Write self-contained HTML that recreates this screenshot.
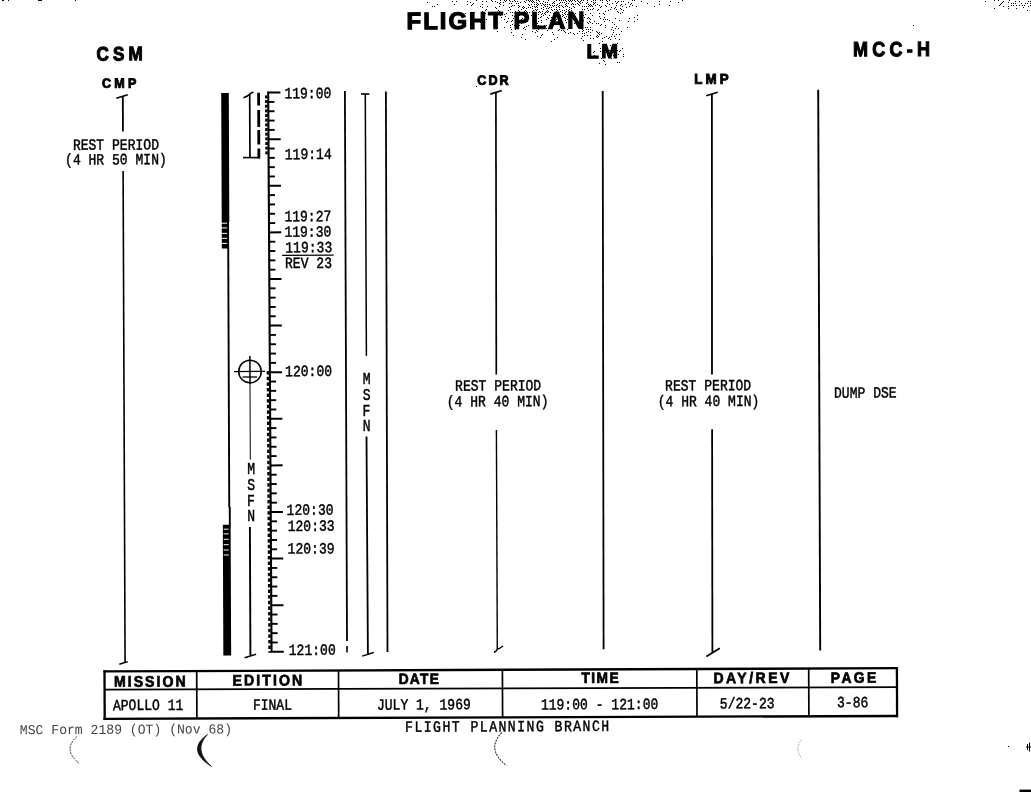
<!DOCTYPE html>
<html><head><meta charset="utf-8"><title>Flight Plan</title>
<style>html,body{margin:0;padding:0;background:#fff}svg{display:block}text{white-space:pre}</style></head>
<body>
<svg width="1031" height="792" viewBox="0 0 1031 792">
<rect width="1031" height="792" fill="#fff"/>
<path d="M476 0.5h1M491 0.5h1M500 0.5h1M504 0.5h1M506 0.5h1M509 0.5h1M514 0.5h1M526 0.5h1M528 0.5h1M530 0.5h1M532 0.5h1M536 0.5h1M538 0.5h1M548 0.5h1M556 0.5h1M559 0.5h1M561 0.5h1M563 0.5h1M565 0.5h1M568 0.5h1M570 0.5h1M572 0.5h1M574 0.5h1M577 0.5h1M581 0.5h1M583 0.5h1M587 0.5h1M593 0.5h1M595 0.5h1M600 0.5h1M602 0.5h1M606 0.5h1M609 0.5h1M632 0.5h1M634 0.5h1M682 0.5h1M994 0.5h1M998 0.5h1M1009 0.5h1M452 1.5h1M456 1.5h1M467 1.5h1M482 1.5h1M486 1.5h1M492 1.5h1M495 1.5h1M505 1.5h1M510 1.5h1M512 1.5h1M515 1.5h1M517 1.5h1M524 1.5h1M529 1.5h1M531 1.5h1M533 1.5h1M539 1.5h1M543 1.5h1M554 1.5h1M566 1.5h1M569 1.5h1M571 1.5h1M575 1.5h1M578 1.5h1M580 1.5h1M591 1.5h1M607 1.5h1M615 1.5h1M618 1.5h1M621 1.5h1M623 1.5h1M641 1.5h1M659 1.5h1M670 1.5h1M985 1.5h1M1003 1.5h1M1015 1.5h1M1019 1.5h1M1028 1.5h1M1030 1.5h1M427 2.5h1M470 2.5h1M497 2.5h1M500 2.5h1M503 2.5h1M520 2.5h1M525 2.5h1M532 2.5h1M534 2.5h1M536 2.5h1M545 2.5h1M547 2.5h1M553 2.5h1M560 2.5h1M562 2.5h1M564 2.5h1M579 2.5h1M582 2.5h1M587 2.5h1M593 2.5h1M595 2.5h1M602 2.5h1M617 2.5h1M628 2.5h1M678 2.5h1M1002 2.5h1M1008 2.5h1M473 3.5h1M499 3.5h1M509 3.5h1M511 3.5h1M516 3.5h1M518 3.5h1M537 3.5h1M540 3.5h1M542 3.5h1M552 3.5h1M554 3.5h1M559 3.5h1M566 3.5h1M568 3.5h1M572 3.5h1M577 3.5h1M580 3.5h1M586 3.5h1M594 3.5h1M607 3.5h1M612 3.5h1M616 3.5h1M631 3.5h1M647 3.5h1M1001 3.5h1M1011 3.5h1M1013 3.5h1M1015 3.5h1M1021 3.5h1M1025 3.5h1M1027 3.5h1M1030 3.5h1M437 4.5h1M454 4.5h1M467 4.5h1M472 4.5h1M482 4.5h1M500 4.5h1M528 4.5h1M531 4.5h1M534 4.5h1M536 4.5h1M538 4.5h1M543 4.5h1M545 4.5h1M547 4.5h1M549 4.5h1M557 4.5h1M565 4.5h1M571 4.5h1M573 4.5h1M575 4.5h1M578 4.5h1M588 4.5h1M590 4.5h1M593 4.5h1M597 4.5h1M609 4.5h1M621 4.5h1M625 4.5h1M630 4.5h1M659 4.5h1M1000 4.5h1M471 5.5h1M503 5.5h1M512 5.5h1M514 5.5h1M518 5.5h1M529 5.5h1M537 5.5h1M541 5.5h1M544 5.5h1M550 5.5h1M552 5.5h1M554 5.5h1M556 5.5h1M559 5.5h1M561 5.5h1M566 5.5h1M579 5.5h1M589 5.5h1M591 5.5h1M595 5.5h1M599 5.5h1M605 5.5h1M616 5.5h1M620 5.5h1M632 5.5h1M669 5.5h1M999 5.5h1M1011 5.5h1M1013 5.5h1M1016 5.5h1M1019 5.5h1M1022 5.5h1M1024 5.5h1M1030 5.5h1M432 6.5h1M434 6.5h1M480 6.5h1M487 6.5h1M499 6.5h1M511 6.5h1M519 6.5h1M523 6.5h1M532 6.5h1M534 6.5h1M536 6.5h1M545 6.5h1M547 6.5h1M553 6.5h1M558 6.5h1M562 6.5h1M565 6.5h1M567 6.5h1M573 6.5h1M582 6.5h1M584 6.5h1M586 6.5h1M588 6.5h1M590 6.5h1M592 6.5h1M601 6.5h1M606 6.5h1M622 6.5h1M629 6.5h1M636 6.5h1M654 6.5h1M1003 6.5h1M1008 6.5h1M1028 6.5h1M482 7.5h1M495 7.5h1M509 7.5h1M518 7.5h1M522 7.5h1M524 7.5h1M528 7.5h1M530 7.5h1M535 7.5h1M537 7.5h1M543 7.5h1M549 7.5h1M551 7.5h1M556 7.5h1M559 7.5h1M563 7.5h1M569 7.5h1M574 7.5h1M600 7.5h1M611 7.5h1M615 7.5h1M626 7.5h1M1023 7.5h1M496 8.5h1M523 8.5h1M526 8.5h1M532 8.5h1M541 8.5h1M546 8.5h1M548 8.5h1M571 8.5h1M587 8.5h1M593 8.5h1M614 8.5h1M620 8.5h1M994 8.5h1M1008 8.5h1M1016 8.5h1M486 9.5h1M510 9.5h1M521 9.5h1M535 9.5h1M537 9.5h1M543 9.5h1M551 9.5h1M554 9.5h1M556 9.5h1M559 9.5h1M566 9.5h1M569 9.5h1M582 9.5h1M584 9.5h1M590 9.5h1M592 9.5h1M598 9.5h1M610 9.5h1M616 9.5h1M621 9.5h1M485 10.5h1M498 10.5h1M508 10.5h1M518 10.5h1M525 10.5h1M533 10.5h1M536 10.5h1M547 10.5h1M552 10.5h1M557 10.5h1M562 10.5h1M564 10.5h1M568 10.5h1M571 10.5h1M588 10.5h1M597 10.5h1M608 10.5h1M623 10.5h1M1027 10.5h1M482 11.5h1M499 11.5h1M515 11.5h1M519 11.5h1M524 11.5h1M526 11.5h1M532 11.5h1M539 11.5h1M542 11.5h1M546 11.5h1M548 11.5h1M556 11.5h1M560 11.5h1M566 11.5h1M569 11.5h1M581 11.5h1M605 11.5h1M617 11.5h1M474 12.5h1M510 12.5h1M512 12.5h1M523 12.5h1M525 12.5h1M527 12.5h1M529 12.5h1M534 12.5h1M538 12.5h1M540 12.5h1M545 12.5h1M547 12.5h1M550 12.5h1M562 12.5h1M565 12.5h1M571 12.5h1M618 12.5h1M622 12.5h1M465 13.5h1M485 13.5h1M498 13.5h1M506 13.5h1M542 13.5h1M544 13.5h1M553 13.5h1M555 13.5h1M564 13.5h1M569 13.5h1M572 13.5h1M575 13.5h1M581 13.5h1M590 13.5h1M599 13.5h1M603 13.5h1M620 13.5h1M484 14.5h1M495 14.5h1M504 14.5h1M517 14.5h1M534 14.5h1M538 14.5h1M541 14.5h1M545 14.5h1M556 14.5h1M559 14.5h1M562 14.5h1M565 14.5h1M567 14.5h1M579 14.5h1M582 14.5h1M585 14.5h1M604 14.5h1M500 15.5h1M512 15.5h1M519 15.5h1M526 15.5h1M531 15.5h1M543 15.5h1M549 15.5h1M554 15.5h1M558 15.5h1M560 15.5h1M563 15.5h1M583 15.5h1M592 15.5h1M637 15.5h1M484 16.5h1M505 16.5h1M514 16.5h1M524 16.5h1M541 16.5h1M553 16.5h1M556 16.5h1M562 16.5h1M566 16.5h1M599 16.5h1M501 17.5h1M527 17.5h1M533 17.5h1M540 17.5h1M547 17.5h1M551 17.5h1M555 17.5h1M558 17.5h1M564 17.5h1M568 17.5h1M581 17.5h1M584 17.5h1M588 17.5h1M604 17.5h1M634 17.5h1M495 18.5h1M508 18.5h1M513 18.5h1M518 18.5h1M522 18.5h1M535 18.5h1M538 18.5h1M548 18.5h1M552 18.5h1M565 18.5h1M570 18.5h1M580 18.5h1M582 18.5h1M587 18.5h1M589 18.5h1M600 18.5h1M615 18.5h1M629 18.5h1M486 19.5h1M504 19.5h1M521 19.5h1M534 19.5h1M546 19.5h1M556 19.5h1M567 19.5h1M573 19.5h1M590 19.5h1M603 19.5h1M605 19.5h1M607 19.5h1M637 19.5h1M484 20.5h1M512 20.5h1M517 20.5h1M520 20.5h1M524 20.5h1M526 20.5h1M532 20.5h1M535 20.5h1M541 20.5h1M550 20.5h1M555 20.5h1M559 20.5h1M565 20.5h1M574 20.5h1M579 20.5h1M583 20.5h1M609 20.5h1M619 20.5h1M477 21.5h1M507 21.5h1M511 21.5h1M527 21.5h1M538 21.5h1M551 21.5h1M560 21.5h1M589 21.5h1M594 21.5h1M604 21.5h1M628 21.5h1M634 21.5h1M473 22.5h1M480 22.5h1M506 22.5h1M516 22.5h1M524 22.5h1M532 22.5h1M541 22.5h1M566 22.5h1M569 22.5h1M571 22.5h1M579 22.5h1M587 22.5h1M590 22.5h1M612 22.5h1M521 23.5h1M537 23.5h1M557 23.5h1M574 23.5h1M588 23.5h1M592 23.5h1M596 23.5h1M598 23.5h1M512 24.5h1M532 24.5h1M534 24.5h1M555 24.5h1M560 24.5h1M562 24.5h1M581 24.5h1M601 24.5h1M614 24.5h1M510 25.5h1M514 25.5h1M519 25.5h1M528 25.5h1M538 25.5h1M544 25.5h1M546 25.5h1M549 25.5h1M553 25.5h1M577 25.5h1M582 25.5h1M600 25.5h1M605 25.5h1M526 26.5h1M537 26.5h1M540 26.5h1M545 26.5h1M578 26.5h1M616 26.5h1M484 27.5h1M497 27.5h1M504 27.5h1M510 27.5h1M524 27.5h1M560 27.5h1M562 27.5h1M570 27.5h1M585 27.5h1M587 27.5h1M590 27.5h1M605 27.5h1M612 27.5h1M627 27.5h1M517 28.5h1M523 28.5h1M534 28.5h1M546 28.5h1M548 28.5h1M615 28.5h1M618 28.5h1M511 29.5h1M515 29.5h1M525 29.5h1M538 29.5h1M559 29.5h1M567 29.5h1M582 29.5h1M586 29.5h1M588 29.5h1M590 29.5h1M611 29.5h1M536 30.5h1M547 30.5h1M558 30.5h1M561 30.5h1M563 30.5h1M583 30.5h1M592 30.5h1M613 30.5h1M497 31.5h1M532 31.5h1M537 31.5h1M564 31.5h1M579 31.5h1M582 31.5h1M588 31.5h1M596 31.5h1M621 31.5h1M511 32.5h1M535 32.5h1M552 32.5h1M565 32.5h1M570 32.5h1M586 32.5h1M590 32.5h1M597 32.5h1M599 32.5h1M613 32.5h1M568 33.5h1M573 33.5h1M577 33.5h1M582 33.5h1M584 33.5h1M598 33.5h1M601 33.5h1M522 34.5h1M542 34.5h1M553 34.5h1M574 34.5h1M599 34.5h1M612 34.5h1M616 34.5h1M619 34.5h1M513 35.5h1M541 35.5h1M584 35.5h1M587 35.5h1M590 35.5h1M597 35.5h1M537 36.5h1M582 36.5h1M596 36.5h1M598 36.5h1M606 36.5h1M611 36.5h1M614 36.5h1M521 37.5h1M540 37.5h1M557 37.5h1M597 37.5h1M604 37.5h1M609 37.5h1M581 38.5h1M590 38.5h1M593 38.5h1M602 38.5h1M608 38.5h1M615 38.5h1M525 39.5h1M554 39.5h1M610 39.5h1M619 39.5h1M583 40.5h1M551 41.5h1M602 41.5h1M599 43.5h1M617 43.5h1M605 44.5h1M610 45.5h1M602 46.5h1M603 47.5h1M600 48.5h1M612 48.5h1M622 48.5h1M609 50.5h1M617 50.5h1M620 50.5h1M594 51.5h1M600 51.5h1M619 51.5h1M593 52.5h1M603 52.5h1M613 52.5h1M610 53.5h1M616 53.5h1M604 54.5h1M614 54.5h1M618 54.5h1M623 54.5h1M589 55.5h1M594 55.5h1M613 55.5h1M615 55.5h1M623 56.5h1M601 58.5h1M611 58.5h1M603 60.5h1M604 61.5h1M617 62.5h1M619 62.5h1M599 63.5h1M605 64.5h1" stroke="#000" stroke-width="1" fill="none" shape-rendering="crispEdges"/>
<text transform="translate(406.60 29.20) rotate(-0.23) scale(1.0000 1)" font-family="Liberation Sans, monospace" font-weight="bold" font-size="23.98" letter-spacing="1.948" fill="#000" stroke="#000" stroke-width="1.2">FLIGHT PLAN</text>
<text transform="translate(96.45 60.45) rotate(-0.23) scale(0.8800 1)" font-family="Liberation Sans, monospace" font-weight="bold" font-size="19.48" letter-spacing="4.637" fill="#000" stroke="#000" stroke-width="1.1">CSM</text>
<text transform="translate(586.40 58.15) rotate(-0.23) scale(1.0200 1)" font-family="Liberation Sans, monospace" font-weight="bold" font-size="19.77" letter-spacing="2.436" fill="#000" stroke="#000" stroke-width="1.1">LM</text>
<text transform="translate(853.04 56.35) rotate(-0.23) scale(0.8800 1)" font-family="Liberation Sans, monospace" font-weight="bold" font-size="20.49" letter-spacing="4.807" fill="#000" stroke="#000" stroke-width="1.1">MCC-H</text>
<text transform="translate(101.93 87.75) rotate(-0.23) scale(0.9400 1)" font-family="Liberation Sans, monospace" font-weight="bold" font-size="13.37" letter-spacing="3.411" fill="#000" stroke="#000" stroke-width="0.9">CMP</text>
<text transform="translate(477.33 84.75) rotate(-0.23) scale(0.9400 1)" font-family="Liberation Sans, monospace" font-weight="bold" font-size="13.37" letter-spacing="2.202" fill="#000" stroke="#000" stroke-width="0.9">CDR</text>
<text transform="translate(694.35 83.85) rotate(-0.23) scale(0.9400 1)" font-family="Liberation Sans, monospace" font-weight="bold" font-size="14.24" letter-spacing="3.292" fill="#000" stroke="#000" stroke-width="0.9">LMP</text>
<line x1="116.30" y1="98.30" x2="127.80" y2="94.70" stroke="#000" stroke-width="1.5"/>
<line x1="122.81" y1="96.00" x2="122.95" y2="131.40" stroke="#000" stroke-width="1.8"/>
<line x1="123.11" y1="171.10" x2="125.08" y2="662.50" stroke="#000" stroke-width="1.6"/>
<line x1="119.30" y1="664.20" x2="127.80" y2="661.60" stroke="#000" stroke-width="1.5"/>
<text transform="translate(72.89 149.88) rotate(-0.23) scale(0.8365 1)" font-family="Liberation Mono, monospace" font-weight="normal" font-size="15.60" fill="#000" stroke="#000" stroke-width="0.45">REST PERIOD</text>
<text transform="translate(65.05 164.58) rotate(-0.23) scale(0.8365 1)" font-family="Liberation Mono, monospace" font-weight="normal" font-size="15.60" fill="#000" stroke="#000" stroke-width="0.45">(4 HR 50 MIN)</text>
<polygon points="221.20,93.1 228.80,93.1 229.32,222 221.72,222" fill="#000"/>
<polygon points="221.72,222 229.02,222 229.12,248.5 221.82,248.5" fill="#000"/>
<line x1="220.92" y1="223.20" x2="227.12" y2="223.20" stroke="#fff" stroke-width="1.0"/>
<line x1="220.94" y1="227.90" x2="227.14" y2="227.90" stroke="#fff" stroke-width="1.0"/>
<line x1="220.96" y1="233.40" x2="227.16" y2="233.40" stroke="#fff" stroke-width="1.0"/>
<line x1="220.98" y1="238.30" x2="227.18" y2="238.30" stroke="#fff" stroke-width="1.0"/>
<line x1="221.00" y1="243.40" x2="227.20" y2="243.40" stroke="#fff" stroke-width="1.0"/>
<line x1="228.22" y1="248.00" x2="229.26" y2="507.50" stroke="#000" stroke-width="1.9"/>
<line x1="229.76" y1="507.00" x2="229.83" y2="526.00" stroke="#000" stroke-width="1.9"/>
<polygon points="222.83,524.8 230.63,524.8 230.75,556 222.95,556" fill="#000"/>
<line x1="223.64" y1="529.20" x2="228.64" y2="529.20" stroke="#fff" stroke-width="1.0"/>
<line x1="223.66" y1="533.90" x2="228.66" y2="533.90" stroke="#fff" stroke-width="1.0"/>
<line x1="223.69" y1="539.30" x2="228.69" y2="539.30" stroke="#fff" stroke-width="1.0"/>
<line x1="223.71" y1="544.70" x2="228.71" y2="544.70" stroke="#fff" stroke-width="1.0"/>
<line x1="223.73" y1="550.00" x2="228.73" y2="550.00" stroke="#fff" stroke-width="1.0"/>
<line x1="223.75" y1="555.00" x2="228.75" y2="555.00" stroke="#fff" stroke-width="1.0"/>
<polygon points="222.95,556 230.75,556 231.15,655.6 223.35,655.6" fill="#000"/>
<path d="M243.5 97.8 Q248 96.5 250 93.8 Q251.5 92.5 253.5 92.2" fill="none" stroke="#000" stroke-width="1.5"/>
<line x1="249.70" y1="94.00" x2="249.96" y2="157.60" stroke="#000" stroke-width="1.7"/>
<line x1="243.00" y1="157.60" x2="260.00" y2="157.60" stroke="#000" stroke-width="1.6"/>
<line x1="258.60" y1="92.80" x2="258.65" y2="105.50" stroke="#000" stroke-width="2.8"/>
<line x1="258.67" y1="109.90" x2="258.74" y2="126.90" stroke="#000" stroke-width="2.8"/>
<line x1="258.75" y1="130.00" x2="258.81" y2="144.60" stroke="#000" stroke-width="2.8"/>
<line x1="258.82" y1="148.40" x2="258.86" y2="158.40" stroke="#000" stroke-width="2.8"/>
<line x1="268.19" y1="91.60" x2="271.56" y2="652.80" stroke="#000" stroke-width="2.1"/>
<line x1="268.20" y1="92.60" x2="280.40" y2="92.55" stroke="#000" stroke-width="2.0"/>
<line x1="268.25" y1="101.92" x2="274.45" y2="101.92" stroke="#000" stroke-width="1.9"/>
<line x1="268.31" y1="111.24" x2="274.51" y2="111.24" stroke="#000" stroke-width="1.9"/>
<line x1="268.37" y1="120.56" x2="274.57" y2="120.56" stroke="#000" stroke-width="1.9"/>
<line x1="268.42" y1="129.88" x2="274.62" y2="129.88" stroke="#000" stroke-width="1.9"/>
<line x1="268.48" y1="139.20" x2="280.68" y2="139.15" stroke="#000" stroke-width="2.0"/>
<line x1="268.53" y1="148.52" x2="274.73" y2="148.52" stroke="#000" stroke-width="1.9"/>
<line x1="268.59" y1="157.84" x2="274.79" y2="157.84" stroke="#000" stroke-width="1.9"/>
<line x1="268.64" y1="167.16" x2="274.84" y2="167.16" stroke="#000" stroke-width="1.9"/>
<line x1="268.70" y1="176.48" x2="274.90" y2="176.48" stroke="#000" stroke-width="1.9"/>
<line x1="268.76" y1="185.80" x2="280.96" y2="185.75" stroke="#000" stroke-width="2.0"/>
<line x1="268.81" y1="195.12" x2="275.01" y2="195.12" stroke="#000" stroke-width="1.9"/>
<line x1="268.87" y1="204.44" x2="275.07" y2="204.44" stroke="#000" stroke-width="1.9"/>
<line x1="268.92" y1="213.76" x2="275.12" y2="213.76" stroke="#000" stroke-width="1.9"/>
<line x1="268.98" y1="223.08" x2="275.18" y2="223.08" stroke="#000" stroke-width="1.9"/>
<line x1="269.04" y1="232.40" x2="281.24" y2="232.35" stroke="#000" stroke-width="2.0"/>
<line x1="269.09" y1="241.72" x2="275.29" y2="241.72" stroke="#000" stroke-width="1.9"/>
<line x1="269.15" y1="251.04" x2="275.35" y2="251.04" stroke="#000" stroke-width="1.9"/>
<line x1="269.20" y1="260.36" x2="275.40" y2="260.36" stroke="#000" stroke-width="1.9"/>
<line x1="269.26" y1="269.68" x2="275.46" y2="269.68" stroke="#000" stroke-width="1.9"/>
<line x1="269.32" y1="279.00" x2="281.52" y2="278.95" stroke="#000" stroke-width="2.0"/>
<line x1="269.37" y1="288.32" x2="275.57" y2="288.32" stroke="#000" stroke-width="1.9"/>
<line x1="269.43" y1="297.64" x2="275.63" y2="297.64" stroke="#000" stroke-width="1.9"/>
<line x1="269.48" y1="306.96" x2="275.68" y2="306.96" stroke="#000" stroke-width="1.9"/>
<line x1="269.54" y1="316.28" x2="275.74" y2="316.28" stroke="#000" stroke-width="1.9"/>
<line x1="269.60" y1="325.60" x2="281.80" y2="325.55" stroke="#000" stroke-width="2.0"/>
<line x1="269.65" y1="334.92" x2="275.85" y2="334.92" stroke="#000" stroke-width="1.9"/>
<line x1="269.71" y1="344.24" x2="275.91" y2="344.24" stroke="#000" stroke-width="1.9"/>
<line x1="269.76" y1="353.56" x2="275.96" y2="353.56" stroke="#000" stroke-width="1.9"/>
<line x1="269.82" y1="362.88" x2="276.02" y2="362.88" stroke="#000" stroke-width="1.9"/>
<line x1="269.88" y1="372.20" x2="282.08" y2="372.15" stroke="#000" stroke-width="2.0"/>
<line x1="269.93" y1="381.52" x2="276.13" y2="381.52" stroke="#000" stroke-width="1.9"/>
<line x1="269.99" y1="390.84" x2="276.19" y2="390.84" stroke="#000" stroke-width="1.9"/>
<line x1="270.04" y1="400.16" x2="276.24" y2="400.16" stroke="#000" stroke-width="1.9"/>
<line x1="270.10" y1="409.48" x2="276.30" y2="409.48" stroke="#000" stroke-width="1.9"/>
<line x1="270.15" y1="418.80" x2="282.35" y2="418.75" stroke="#000" stroke-width="2.0"/>
<line x1="270.21" y1="428.12" x2="276.41" y2="428.12" stroke="#000" stroke-width="1.9"/>
<line x1="270.27" y1="437.44" x2="276.47" y2="437.44" stroke="#000" stroke-width="1.9"/>
<line x1="270.32" y1="446.76" x2="276.52" y2="446.76" stroke="#000" stroke-width="1.9"/>
<line x1="270.38" y1="456.08" x2="276.58" y2="456.08" stroke="#000" stroke-width="1.9"/>
<line x1="270.43" y1="465.40" x2="282.63" y2="465.35" stroke="#000" stroke-width="2.0"/>
<line x1="270.49" y1="474.72" x2="276.69" y2="474.72" stroke="#000" stroke-width="1.9"/>
<line x1="270.55" y1="484.04" x2="276.75" y2="484.04" stroke="#000" stroke-width="1.9"/>
<line x1="270.60" y1="493.36" x2="276.80" y2="493.36" stroke="#000" stroke-width="1.9"/>
<line x1="270.66" y1="502.68" x2="276.86" y2="502.68" stroke="#000" stroke-width="1.9"/>
<line x1="270.71" y1="512.00" x2="282.91" y2="511.95" stroke="#000" stroke-width="2.0"/>
<line x1="270.77" y1="521.32" x2="276.97" y2="521.32" stroke="#000" stroke-width="1.9"/>
<line x1="270.83" y1="530.64" x2="277.03" y2="530.64" stroke="#000" stroke-width="1.9"/>
<line x1="270.88" y1="539.96" x2="277.08" y2="539.96" stroke="#000" stroke-width="1.9"/>
<line x1="270.94" y1="549.28" x2="277.14" y2="549.28" stroke="#000" stroke-width="1.9"/>
<line x1="270.99" y1="558.60" x2="283.19" y2="558.55" stroke="#000" stroke-width="2.0"/>
<line x1="271.05" y1="567.92" x2="277.25" y2="567.92" stroke="#000" stroke-width="1.9"/>
<line x1="271.11" y1="577.24" x2="277.31" y2="577.24" stroke="#000" stroke-width="1.9"/>
<line x1="271.16" y1="586.56" x2="277.36" y2="586.56" stroke="#000" stroke-width="1.9"/>
<line x1="271.22" y1="595.88" x2="277.42" y2="595.88" stroke="#000" stroke-width="1.9"/>
<line x1="271.27" y1="605.20" x2="283.47" y2="605.15" stroke="#000" stroke-width="2.0"/>
<line x1="271.33" y1="614.52" x2="277.53" y2="614.52" stroke="#000" stroke-width="1.9"/>
<line x1="271.39" y1="623.84" x2="277.59" y2="623.84" stroke="#000" stroke-width="1.9"/>
<line x1="271.44" y1="633.16" x2="277.64" y2="633.16" stroke="#000" stroke-width="1.9"/>
<line x1="271.50" y1="642.48" x2="277.70" y2="642.48" stroke="#000" stroke-width="1.9"/>
<line x1="271.55" y1="651.80" x2="283.75" y2="651.75" stroke="#000" stroke-width="2.0"/>
<rect x="265.01" y="95.40" width="2.40" height="3.00" fill="#000"/>
<rect x="265.04" y="100.06" width="2.40" height="3.00" fill="#000"/>
<rect x="265.07" y="104.72" width="2.40" height="3.00" fill="#000"/>
<rect x="265.10" y="109.38" width="2.40" height="3.00" fill="#000"/>
<rect x="265.13" y="114.04" width="2.40" height="3.00" fill="#000"/>
<rect x="265.15" y="118.70" width="2.40" height="3.00" fill="#000"/>
<rect x="265.18" y="123.36" width="2.40" height="3.00" fill="#000"/>
<rect x="265.21" y="128.02" width="2.40" height="3.00" fill="#000"/>
<rect x="265.24" y="132.68" width="2.40" height="3.00" fill="#000"/>
<rect x="265.27" y="137.34" width="2.40" height="3.00" fill="#000"/>
<rect x="265.29" y="142.00" width="2.40" height="3.00" fill="#000"/>
<rect x="265.32" y="146.66" width="2.40" height="3.00" fill="#000"/>
<rect x="265.35" y="151.32" width="2.40" height="3.00" fill="#000"/>
<rect x="266.67" y="371.20" width="2.40" height="3.40" fill="#000"/>
<rect x="266.70" y="376.80" width="2.40" height="3.40" fill="#000"/>
<rect x="266.74" y="382.40" width="2.40" height="3.40" fill="#000"/>
<rect x="266.77" y="388.00" width="2.40" height="3.40" fill="#000"/>
<rect x="266.80" y="393.60" width="2.40" height="3.40" fill="#000"/>
<rect x="266.84" y="399.20" width="2.40" height="3.40" fill="#000"/>
<rect x="266.87" y="404.80" width="2.40" height="3.40" fill="#000"/>
<rect x="266.90" y="410.40" width="2.40" height="3.40" fill="#000"/>
<rect x="266.94" y="416.00" width="2.40" height="3.40" fill="#000"/>
<rect x="266.97" y="421.60" width="2.40" height="3.40" fill="#000"/>
<rect x="267.01" y="427.20" width="2.40" height="3.40" fill="#000"/>
<rect x="267.04" y="432.80" width="2.40" height="3.40" fill="#000"/>
<rect x="267.07" y="438.40" width="2.40" height="3.40" fill="#000"/>
<rect x="267.11" y="444.00" width="2.40" height="3.40" fill="#000"/>
<rect x="267.14" y="449.60" width="2.40" height="3.40" fill="#000"/>
<rect x="267.17" y="455.20" width="2.40" height="3.40" fill="#000"/>
<rect x="267.21" y="460.80" width="2.40" height="3.40" fill="#000"/>
<rect x="267.24" y="466.40" width="2.40" height="3.40" fill="#000"/>
<rect x="267.27" y="472.00" width="2.40" height="3.40" fill="#000"/>
<rect x="267.31" y="477.60" width="2.40" height="3.40" fill="#000"/>
<rect x="267.34" y="483.20" width="2.40" height="3.40" fill="#000"/>
<rect x="267.37" y="488.80" width="2.40" height="3.40" fill="#000"/>
<rect x="267.41" y="494.40" width="2.40" height="3.40" fill="#000"/>
<rect x="267.44" y="500.00" width="2.40" height="3.40" fill="#000"/>
<rect x="267.48" y="505.60" width="2.40" height="3.40" fill="#000"/>
<rect x="267.51" y="511.20" width="2.40" height="3.40" fill="#000"/>
<rect x="267.54" y="516.80" width="2.40" height="3.40" fill="#000"/>
<rect x="267.58" y="522.40" width="2.40" height="3.40" fill="#000"/>
<rect x="267.61" y="528.00" width="2.40" height="3.40" fill="#000"/>
<rect x="267.64" y="533.60" width="2.40" height="3.40" fill="#000"/>
<rect x="267.68" y="539.20" width="2.40" height="3.40" fill="#000"/>
<rect x="267.71" y="544.80" width="2.40" height="3.40" fill="#000"/>
<rect x="267.74" y="550.40" width="2.40" height="3.40" fill="#000"/>
<rect x="267.78" y="556.00" width="2.40" height="3.40" fill="#000"/>
<rect x="267.81" y="561.60" width="2.40" height="3.40" fill="#000"/>
<rect x="267.85" y="567.20" width="2.40" height="3.40" fill="#000"/>
<rect x="267.88" y="572.80" width="2.40" height="3.40" fill="#000"/>
<rect x="267.91" y="578.40" width="2.40" height="3.40" fill="#000"/>
<rect x="267.95" y="584.00" width="2.40" height="3.40" fill="#000"/>
<rect x="267.98" y="589.60" width="2.40" height="3.40" fill="#000"/>
<rect x="268.01" y="595.20" width="2.40" height="3.40" fill="#000"/>
<rect x="268.05" y="600.80" width="2.40" height="3.40" fill="#000"/>
<rect x="268.08" y="606.40" width="2.40" height="3.40" fill="#000"/>
<rect x="268.11" y="612.00" width="2.40" height="3.40" fill="#000"/>
<rect x="268.15" y="617.60" width="2.40" height="3.40" fill="#000"/>
<rect x="268.18" y="623.20" width="2.40" height="3.40" fill="#000"/>
<rect x="268.21" y="628.80" width="2.40" height="3.40" fill="#000"/>
<rect x="268.25" y="634.40" width="2.40" height="3.40" fill="#000"/>
<rect x="268.28" y="640.00" width="2.40" height="3.40" fill="#000"/>
<rect x="268.32" y="645.60" width="2.40" height="3.40" fill="#000"/>
<rect x="268.35" y="651.20" width="2.40" height="1.60" fill="#000"/>
<text transform="translate(284.38 98.28) rotate(-0.23) scale(0.8365 1)" font-family="Liberation Mono, monospace" font-weight="normal" font-size="15.60" fill="#000" stroke="#000" stroke-width="0.45">119:00</text>
<text transform="translate(284.78 159.18) rotate(-0.23) scale(0.8365 1)" font-family="Liberation Mono, monospace" font-weight="normal" font-size="15.60" fill="#000" stroke="#000" stroke-width="0.45">119:14</text>
<text transform="translate(284.38 221.28) rotate(-0.23) scale(0.8365 1)" font-family="Liberation Mono, monospace" font-weight="normal" font-size="15.60" fill="#000" stroke="#000" stroke-width="0.45">119:27</text>
<text transform="translate(284.38 236.78) rotate(-0.23) scale(0.8365 1)" font-family="Liberation Mono, monospace" font-weight="normal" font-size="15.60" fill="#000" stroke="#000" stroke-width="0.45">119:30</text>
<text transform="translate(285.28 252.38) rotate(-0.23) scale(0.8365 1)" font-family="Liberation Mono, monospace" font-weight="normal" font-size="15.60" fill="#000" stroke="#000" stroke-width="0.45">119:33</text>
<line x1="282.20" y1="255.40" x2="333.70" y2="255.20" stroke="#000" stroke-width="1.3"/>
<text transform="translate(284.99 268.07) rotate(-0.23) scale(0.8365 1)" font-family="Liberation Mono, monospace" font-weight="normal" font-size="15.60" fill="#000" stroke="#000" stroke-width="0.45">REV 23</text>
<text transform="translate(285.08 376.17) rotate(-0.23) scale(0.8365 1)" font-family="Liberation Mono, monospace" font-weight="normal" font-size="15.60" fill="#000" stroke="#000" stroke-width="0.45">120:00</text>
<text transform="translate(286.58 514.88) rotate(-0.23) scale(0.8365 1)" font-family="Liberation Mono, monospace" font-weight="normal" font-size="15.60" fill="#000" stroke="#000" stroke-width="0.45">120:30</text>
<text transform="translate(287.68 530.98) rotate(-0.23) scale(0.8365 1)" font-family="Liberation Mono, monospace" font-weight="normal" font-size="15.60" fill="#000" stroke="#000" stroke-width="0.45">120:33</text>
<text transform="translate(287.58 553.57) rotate(-0.23) scale(0.8365 1)" font-family="Liberation Mono, monospace" font-weight="normal" font-size="15.60" fill="#000" stroke="#000" stroke-width="0.45">120:39</text>
<text transform="translate(288.78 654.98) rotate(-0.23) scale(0.8365 1)" font-family="Liberation Mono, monospace" font-weight="normal" font-size="15.60" fill="#000" stroke="#000" stroke-width="0.45">121:00</text>
<circle cx="250" cy="371.5" r="11.3" fill="none" stroke="#000" stroke-width="1.5"/>
<line x1="234.00" y1="371.60" x2="265.00" y2="371.40" stroke="#000" stroke-width="1.3"/>
<line x1="242.50" y1="377.00" x2="257.00" y2="377.00" stroke="#000" stroke-width="1.3"/>
<line x1="249.90" y1="356.00" x2="250.00" y2="384.00" stroke="#000" stroke-width="1.5"/>
<line x1="250.00" y1="384.00" x2="250.30" y2="459.60" stroke="#000" stroke-width="1.0"/>
<text transform="scale(0.8365 1)" x="295.61 295.69 295.41 295.61" y="473.97 490.27 506.17 521.27" font-family="Liberation Mono, monospace" font-size="15.6" fill="#000" stroke="#000" stroke-width="0.45">MSFN</text>
<line x1="249.90" y1="527.10" x2="250.40" y2="655.60" stroke="#000" stroke-width="1.9"/>
<line x1="244.60" y1="657.80" x2="256.10" y2="654.20" stroke="#000" stroke-width="1.5"/>
<line x1="344.90" y1="91.00" x2="347.00" y2="641.00" stroke="#000" stroke-width="1.8"/>
<line x1="347.00" y1="646.00" x2="347.05" y2="652.40" stroke="#000" stroke-width="1.6"/>
<line x1="361.00" y1="94.00" x2="369.40" y2="94.00" stroke="#000" stroke-width="1.6"/>
<line x1="365.30" y1="94.00" x2="366.40" y2="355.70" stroke="#000" stroke-width="1.5"/>
<text transform="scale(0.8365 1)" x="433.68 433.76 433.48 433.68" y="384.27 399.77 416.07 431.17" font-family="Liberation Mono, monospace" font-size="15.6" fill="#000" stroke="#000" stroke-width="0.45">MSFN</text>
<line x1="366.50" y1="436.50" x2="367.90" y2="654.30" stroke="#000" stroke-width="1.8"/>
<line x1="362.20" y1="656.10" x2="373.70" y2="652.50" stroke="#000" stroke-width="1.5"/>
<line x1="385.90" y1="91.60" x2="387.50" y2="652.00" stroke="#000" stroke-width="1.8"/>
<line x1="490.30" y1="94.10" x2="501.80" y2="90.50" stroke="#000" stroke-width="1.7"/>
<line x1="495.90" y1="92.00" x2="496.30" y2="374.50" stroke="#000" stroke-width="1.7"/>
<line x1="496.40" y1="430.10" x2="497.30" y2="649.30" stroke="#000" stroke-width="1.4"/>
<path d="M494 652.5 Q497 651 497.5 649 Q500 648.5 503 646" fill="none" stroke="#000" stroke-width="1.4"/>
<text transform="translate(455.09 390.67) rotate(-0.23) scale(0.8365 1)" font-family="Liberation Mono, monospace" font-weight="normal" font-size="15.60" fill="#000" stroke="#000" stroke-width="0.45">REST PERIOD</text>
<text transform="translate(446.75 406.47) rotate(-0.23) scale(0.8365 1)" font-family="Liberation Mono, monospace" font-weight="normal" font-size="15.60" fill="#000" stroke="#000" stroke-width="0.45">(4 HR 40 MIN)</text>
<line x1="602.70" y1="91.10" x2="603.60" y2="649.30" stroke="#000" stroke-width="1.8"/>
<line x1="706.20" y1="95.80" x2="717.70" y2="92.20" stroke="#000" stroke-width="1.5"/>
<line x1="711.90" y1="94.00" x2="712.00" y2="374.50" stroke="#000" stroke-width="1.8"/>
<line x1="712.10" y1="429.20" x2="712.40" y2="652.50" stroke="#000" stroke-width="1.8"/>
<line x1="706.40" y1="656.50" x2="719.80" y2="648.20" stroke="#000" stroke-width="1.8"/>
<text transform="translate(665.09 390.47) rotate(-0.23) scale(0.8365 1)" font-family="Liberation Mono, monospace" font-weight="normal" font-size="15.60" fill="#000" stroke="#000" stroke-width="0.45">REST PERIOD</text>
<text transform="translate(657.65 406.27) rotate(-0.23) scale(0.8365 1)" font-family="Liberation Mono, monospace" font-weight="normal" font-size="15.60" fill="#000" stroke="#000" stroke-width="0.45">(4 HR 40 MIN)</text>
<line x1="818.20" y1="89.80" x2="820.20" y2="650.50" stroke="#000" stroke-width="1.9"/>
<text transform="translate(833.99 397.77) rotate(-0.23) scale(0.8365 1)" font-family="Liberation Mono, monospace" font-weight="normal" font-size="15.60" fill="#000" stroke="#000" stroke-width="0.45">DUMP DSE</text>
<line x1="103.40" y1="671.40" x2="898.00" y2="668.20" stroke="#000" stroke-width="2.3"/>
<line x1="103.40" y1="718.80" x2="898.00" y2="716.00" stroke="#000" stroke-width="2.3"/>
<line x1="104.50" y1="670.30" x2="104.70" y2="720.00" stroke="#000" stroke-width="2.3"/>
<line x1="896.90" y1="667.20" x2="897.10" y2="717.20" stroke="#000" stroke-width="2.3"/>
<line x1="104.50" y1="689.70" x2="897.00" y2="687.10" stroke="#000" stroke-width="1.7"/>
<line x1="196.70" y1="671.03" x2="196.90" y2="718.53" stroke="#000" stroke-width="1.7"/>
<line x1="338.50" y1="670.46" x2="338.70" y2="717.96" stroke="#000" stroke-width="1.7"/>
<line x1="502.40" y1="669.81" x2="502.60" y2="717.31" stroke="#000" stroke-width="1.7"/>
<line x1="696.80" y1="669.03" x2="697.00" y2="716.53" stroke="#000" stroke-width="1.7"/>
<line x1="808.70" y1="668.58" x2="808.90" y2="716.08" stroke="#000" stroke-width="1.7"/>
<text transform="translate(113.90 686.85) rotate(-0.23) scale(0.9200 1)" font-family="Liberation Sans, monospace" font-weight="bold" font-size="15.41" letter-spacing="2.183" fill="#000" stroke="#000" stroke-width="0.7">MISSION</text>
<text transform="translate(232.60 685.65) rotate(-0.23) scale(0.9200 1)" font-family="Liberation Sans, monospace" font-weight="bold" font-size="15.41" letter-spacing="2.195" fill="#000" stroke="#000" stroke-width="0.7">EDITION</text>
<text transform="translate(398.63 684.05) rotate(-0.23) scale(0.9200 1)" font-family="Liberation Sans, monospace" font-weight="bold" font-size="14.97" letter-spacing="1.401" fill="#000" stroke="#000" stroke-width="0.7">DATE</text>
<text transform="translate(581.40 683.05) rotate(-0.23) scale(0.9200 1)" font-family="Liberation Sans, monospace" font-weight="bold" font-size="14.97" letter-spacing="1.591" fill="#000" stroke="#000" stroke-width="0.7">TIME</text>
<text transform="translate(713.41 683.25) rotate(-0.23) scale(0.9200 1)" font-family="Liberation Sans, monospace" font-weight="bold" font-size="15.26" letter-spacing="2.703" fill="#000" stroke="#000" stroke-width="0.7">DAY/REV</text>
<text transform="translate(830.72 682.95) rotate(-0.23) scale(0.9200 1)" font-family="Liberation Sans, monospace" font-weight="bold" font-size="15.12" letter-spacing="2.631" fill="#000" stroke="#000" stroke-width="0.7">PAGE</text>
<text transform="translate(112.92 710.17) rotate(-0.23) scale(0.8365 1)" font-family="Liberation Mono, monospace" font-weight="normal" font-size="15.60" fill="#000" stroke="#000" stroke-width="0.45">APOLLO 11</text>
<text transform="translate(252.89 709.77) rotate(-0.23) scale(0.8365 1)" font-family="Liberation Mono, monospace" font-weight="normal" font-size="15.60" fill="#000" stroke="#000" stroke-width="0.45">FINAL</text>
<text transform="translate(376.90 709.67) rotate(-0.23) scale(0.8365 1)" font-family="Liberation Mono, monospace" font-weight="normal" font-size="15.60" fill="#000" stroke="#000" stroke-width="0.45">JULY 1, 1969</text>
<text transform="translate(540.88 709.48) rotate(-0.23) scale(0.8365 1)" font-family="Liberation Mono, monospace" font-weight="normal" font-size="15.60" fill="#000" stroke="#000" stroke-width="0.45">119:00 - 121:00</text>
<text transform="translate(719.81 708.38) rotate(-0.23) scale(0.8365 1)" font-family="Liberation Mono, monospace" font-weight="normal" font-size="15.60" fill="#000" stroke="#000" stroke-width="0.45">5/22-23</text>
<text transform="translate(837.01 707.27) rotate(-0.23) scale(0.8365 1)" font-family="Liberation Mono, monospace" font-weight="normal" font-size="15.60" fill="#000" stroke="#000" stroke-width="0.45">3-86</text>
<text transform="translate(19.87 734.20) rotate(-0.23) scale(0.9485 1)" font-family="Liberation Mono, monospace" font-weight="normal" font-size="13.82" fill="#444">MSC Form 2189 (OT) (Nov 68)</text>
<text transform="translate(405.08 731.77) rotate(-0.23) scale(0.8448 1)" font-family="Liberation Mono, monospace" font-weight="normal" font-size="15.60" letter-spacing="1.7" fill="#000" stroke="#000" stroke-width="0.45">FLIGHT PLANNING BRANCH</text>
<path d="M77 736.5 Q62 750.0 79.4 763.5" fill="none" stroke="#333" stroke-width="1.0" stroke-dasharray="2 1"/>
<path d="M207.5 734.5 Q185.5 750 211.5 766.5 Q192.5 750 207.5 734.5Z" fill="#111" stroke="#111" stroke-width="0.8"/>
<path d="M502 732.5 Q485.5 749.0 506.5 765.5" fill="none" stroke="#333" stroke-width="1.1" stroke-dasharray="2 1"/>
<path d="M801.5 740 Q794 749.25 802 758.5" fill="none" stroke="#333" stroke-width="0.7" stroke-dasharray="1 1.5"/>
<path d="M1027.5 744v6M1029.5 742.5v9M1026 747h5" stroke="#000" stroke-width="1" fill="none"/>
<path d="M2 0.5h2M8 0.5h1M38 0.5h4M75 0.5h1M913 25.5h1M476 86.5h1M434 728.5h1M1008 746.5h1" stroke="#000" stroke-width="1" fill="none"/>
<rect x="1019.5" y="789.6" width="12" height="3" fill="#000"/>
</svg>
</body></html>
